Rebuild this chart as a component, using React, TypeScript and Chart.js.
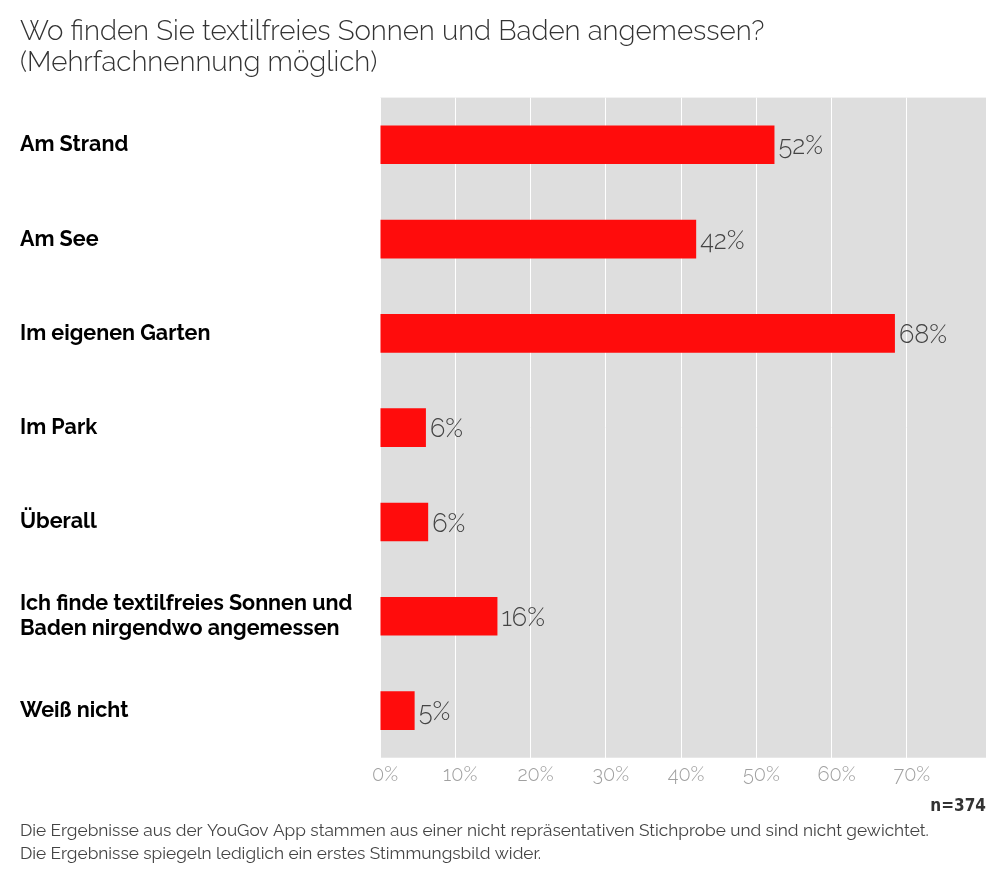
import React, { useEffect, useRef } from "react";
import { Chart, registerables } from "chart.js";

Chart.register(...registerables);

const TITLE_LINES = [
  "Wo finden Sie textilfreies Sonnen und Baden angemessen?",
  "(Mehrfachnennung möglich)",
];
const CATEGORIES: (string | string[])[] = [
  "Am Strand",
  "Am See",
  "Im eigenen Garten",
  "Im Park",
  "Überall",
  ["Ich finde textilfreies Sonnen und", "Baden nirgendwo angemessen"],
  "Weiß nicht",
];
const VALUES = [52.4, 42.0, 68.4, 6.1, 6.4, 15.6, 4.6];
const TICK_VALUES = [0, 10, 20, 30, 40, 50, 60, 70];
const SAMPLE_NOTE = "n=374";
const FOOTNOTE = [
  "Die Ergebnisse aus der YouGov App stammen aus einer nicht repräsentativen Stichprobe und sind nicht gewichtet.",
  "Die Ergebnisse spiegeln lediglich ein erstes Stimmungsbild wider.",
];

const FONT = "Raleway, Lato, 'Open Sans', sans-serif";

const bgPlugin = {
  id: "plotBg",
  beforeDraw(chart: any) {
    const { ctx, chartArea } = chart;
    ctx.save();
    ctx.fillStyle = "#dedede";
    ctx.fillRect(chartArea.left, chartArea.top, chartArea.right - chartArea.left, chartArea.bottom - chartArea.top);
    ctx.restore();
  },
};

const valueLabelPlugin = {
  id: "valueLabels",
  afterDatasetsDraw(chart: any) {
    const { ctx } = chart;
    const meta = chart.getDatasetMeta(0);
    ctx.save();
    ctx.font = `300 25.5px ${FONT}`;
    ctx.fillStyle = "#444444";
    ctx.textAlign = "left";
    ctx.textBaseline = "middle";
    meta.data.forEach((bar: any, i: number) => {
      const v = chart.data.datasets[0].data[i] as number;
      ctx.fillText(`${Math.round(v)}%`, bar.x + 4, bar.y + 2);
    });
    ctx.restore();
  },
};

export default function App() {
  const ref = useRef<HTMLCanvasElement | null>(null);

  useEffect(() => {
    document.body.style.margin = "0";
    if (!ref.current) return;
    const chart = new Chart(ref.current, {
      type: "bar",
      data: {
        labels: CATEGORIES,
        datasets: [
          {
            data: VALUES,
            backgroundColor: "#ff0c0c",
            borderWidth: 0,
            barPercentage: 0.41,
            categoryPercentage: 1,
          },
        ],
      },
      options: {
        indexAxis: "y",
        animation: false,
        responsive: true,
        maintainAspectRatio: false,
        layout: { padding: { left: 20, right: 14, top: 0, bottom: 0 } },
        plugins: {
          legend: { display: false },
          tooltip: { enabled: false },
          title: {
            display: true,
            text: TITLE_LINES,
            align: "start",
            color: "#333333",
            font: { family: FONT, size: 27.7, weight: "300", lineHeight: 1.13 },
            padding: { top: 16, bottom: 19 },
          },
          subtitle: {
            display: true,
            position: "bottom",
            text: FOOTNOTE,
            align: "start",
            color: "#444444",
            font: { family: FONT, size: 17.25, weight: "normal", lineHeight: 1.33 },
            padding: { top: 2, bottom: 4 },
          },
        },
        scales: {
          x: {
            type: "linear",
            min: 0,
            max: 80.5,
            afterBuildTicks(scale: any) {
              scale.ticks = TICK_VALUES.map((v) => ({ value: v }));
            },
            grid: { color: "#ffffff", lineWidth: 1, drawTicks: false },
            border: { display: false },
            ticks: {
              padding: 5,
              labelOffset: 5,
              color: "#a0a0a0",
              font: { family: FONT, size: 20, weight: "300" },
              callback: (v: any) => `${v}%`,
            },
            title: {
              display: true,
              text: SAMPLE_NOTE,
              align: "end",
              color: "#333333",
              font: { family: "'DejaVu Sans Condensed', 'Liberation Sans Narrow', sans-serif", size: 17, weight: "bold" },
              padding: { top: 5, bottom: 0 },
            },
          },
          y: {
            grid: { display: false, drawTicks: false },
            border: { display: false },
            afterFit(scale: any) {
              scale.width = 360;
            },
            ticks: {
              crossAlign: "far",
              padding: 0,
              color: "#000000",
              font: { family: FONT, size: 21.5, weight: "bold", lineHeight: 1.16 },
            },
          },
        },
      },
      plugins: [bgPlugin, valueLabelPlugin],
    });
    return () => chart.destroy();
  }, []);

  return (
    <div style={{ width: 1000, height: 869, position: "relative" }}>
      <canvas ref={ref} />
    </div>
  );
}
